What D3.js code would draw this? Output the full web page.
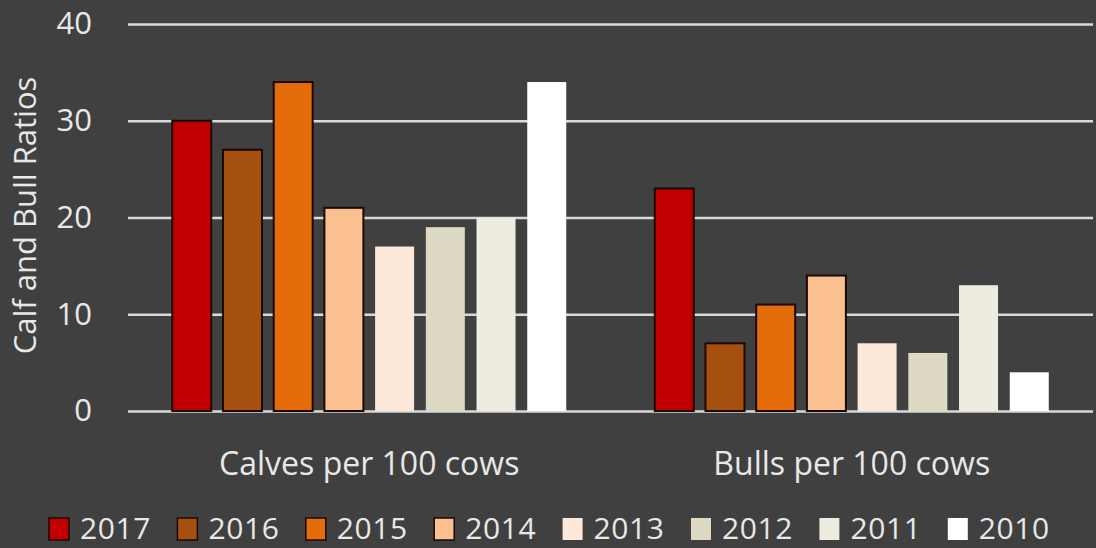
<!DOCTYPE html>
<html>
<head>
<meta charset="utf-8">
<script src="https://cdn.jsdelivr.net/npm/d3@7"></script>
<style>
  html, body { margin: 0; padding: 0; background: #404040; }
  #chart { width: 1096px; height: 548px; }
  text { font-family: "Open Sans", Lato, sans-serif; fill: #e8e8e8; }
</style>
</head>
<body>
<div id="chart"></div>
<script>
//Datos
const categories = ['Calves per 100 cows', 'Bulls per 100 cows'];
const years = ['2017', '2016', '2015', '2014', '2013', '2012', '2011', '2010'];
const calves = [30, 27, 34, 21, 17, 19, 20, 34];
const bulls = [23, 7, 11, 14, 7, 6, 13, 4];
const yTicks = [0, 10, 20, 30, 40];

//Colores
const COLORS = ['#C00000', '#A5500F', '#E46C0A', '#FAC090', '#FDE9D9', '#DDD9C3', '#EEECE1', '#FFFFFF'];
const STROKES = ['#1c0800', '#1c0800', '#1c0800', '#1c0800', 'none', 'none', 'none', 'none'];

const series = [calves, bulls];

let margin = {top: 24, right: 3, bottom: 137, left: 128},
    width = 1096 - margin.left - margin.right,
    height = 548 - margin.top - margin.bottom;

let svg = d3.select('#chart')
    .append('svg')
        .attr('width', 1096)
        .attr('height', 548)
    .append('g')
        .attr('transform', 'translate(' + margin.left + ',' + margin.top + ')');

let x0 = d3.scaleBand()
    .domain(categories)
    .range([0, width])
    .paddingInner(0)
    .paddingOuter(0);

let x1 = d3.scaleBand()
    .domain(years)
    .range([0, 394])
    .paddingInner(0.231)
    .paddingOuter(0);

let y = d3.scaleLinear()
    .domain([0, 40])
    .range([height, 0]);

//Eje Y + rejilla
let yAxis = svg.append('g')
    .call(d3.axisLeft(y).tickValues(yTicks).tickSize(-width).tickPadding(36));
yAxis.select('.domain').remove();
yAxis.selectAll('line').attr('stroke', '#d9d9d9').attr('stroke-width', 2.4);
yAxis.selectAll('text')
    .style('font-size', '31px')
    .style('font-family', '"Open Sans", Lato, sans-serif')
    .attr('fill', '#e8e8e8');

//Barras
let groups = svg.selectAll('.group')
    .data(categories)
    .enter()
    .append('g')
    .attr('class', 'group')
    .attr('transform', function(d) {
        return 'translate(' + (x0(d) + x0.bandwidth() / 2 - 197) + ',0)';
    });

groups.selectAll('rect')
    .data(function(d, i) {
        return years.map(function(yr, j) { return {year: yr, value: series[i][j], idx: j}; });
    })
    .enter()
    .append('rect')
    .attr('x', function(d) { return x1(d.year); })
    .attr('y', function(d) { return y(d.value); })
    .attr('width', x1.bandwidth())
    .attr('height', function(d) { return height - y(d.value); })
    .attr('fill', function(d) { return COLORS[d.idx]; })
    .attr('stroke', function(d) { return STROKES[d.idx]; })
    .attr('stroke-width', 2);

//Etiquetas de categorías
svg.selectAll('.cat')
    .data(categories)
    .enter()
    .append('text')
    .attr('class', 'cat')
    .attr('x', function(d) { return x0(d) + x0.bandwidth() / 2; })
    .attr('y', height + 64)
    .attr('text-anchor', 'middle')
    .style('font-size', '32px')
    .text(function(d) { return d; });

//Título eje Y
svg.append('text')
    .attr('transform', 'translate(' + (-92) + ',' + (height / 2 - 2) + ') rotate(-90)')
    .attr('text-anchor', 'middle')
    .style('font-size', '31px')
    .text('Calf and Bull Ratios');

//Leyenda
let legend = d3.select('#chart svg').append('g')
    .attr('transform', 'translate(49,0)');

let items = legend.selectAll('.item')
    .data(years)
    .enter()
    .append('g')
    .attr('class', 'item')
    .attr('transform', function(d, i) { return 'translate(' + (i * 128.4) + ',0)'; });

items.append('rect')
    .attr('x', 0)
    .attr('y', 518)
    .attr('width', 20)
    .attr('height', 22)
    .attr('fill', function(d, i) { return COLORS[i]; })
    .attr('stroke', function(d, i) { return STROKES[i]; })
    .attr('stroke-width', 1.5);

items.append('text')
    .attr('x', 31)
    .attr('y', 539)
    .style('font-size', '30px')
    .style('letter-spacing', '0.6px')
    .text(function(d) { return d; });
</script>
</body>
</html>
